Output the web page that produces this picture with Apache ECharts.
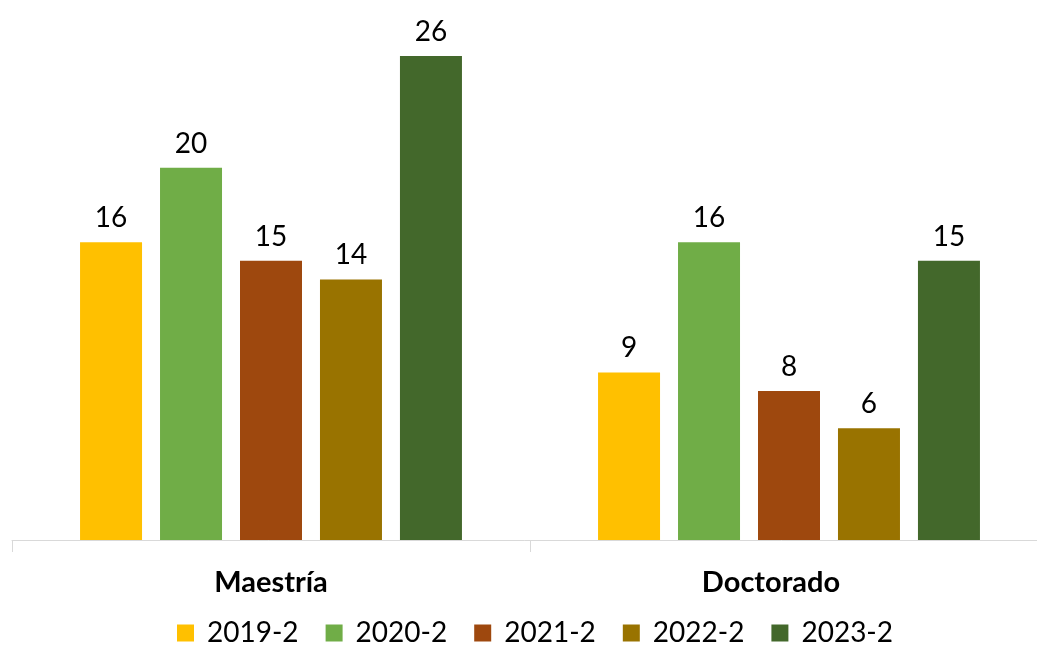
<!DOCTYPE html>
<html><head><meta charset="utf-8">
<script src="https://cdn.jsdelivr.net/npm/echarts@6/dist/echarts.min.js"></script>
<style>html,body{margin:0;padding:0;background:#fff}#c{width:1037px;height:648px}</style>
</head><body><div id="c"></div>
<script>
const categories = ['Maestría', 'Doctorado'];
const seriesNames = ['2019-2', '2020-2', '2021-2', '2022-2', '2023-2'];
const s2019 = [16, 9];
const s2020 = [20, 16];
const s2021 = [15, 8];
const s2022 = [14, 6];
const s2023 = [26, 15];
const colors = ['#FFC000', '#70AD47', '#9E480E', '#997300', '#43682B'];
const values = [s2019, s2020, s2021, s2022, s2023];
const FONT = 'Lato, "Open Sans", sans-serif';

const chart = echarts.init(document.getElementById('c'));
chart.setOption({
  animation: false,
  grid: { left: 12, top: 56, width: 1036, height: 484, containLabel: false, outerBoundsMode: 'none' },
  legend: {
    data: seriesNames, top: 619, left: 177, padding: 0,
    icon: 'rect', itemWidth: 17, itemHeight: 17, itemGap: 27,
    textStyle: { fontFamily: FONT, fontSize: 28, color: '#000', padding: [0, 0, 0, 8] }
  },
  xAxis: {
    type: 'category',
    data: categories.map((c, i) => i === 1 ? { value: c, textStyle: { padding: [0, 36, 0, 0] } } : c),
    axisLine: { lineStyle: { color: '#D9D9D9', width: 1 } },
    axisTick: { show: true, length: 12, lineStyle: { color: '#D9D9D9' } },
    axisLabel: { margin: 28, fontFamily: FONT, fontSize: 29, fontWeight: 'bold', color: '#000' }
  },
  yAxis: { type: 'value', min: 0, max: 26, show: false, splitLine: { show: false } },
  series: seriesNames.map((n, i) => ({
    name: n, type: 'bar', data: values[i],
    barWidth: 62, barGap: '29%',
    itemStyle: { color: colors[i] },
    label: { show: true, position: 'top', distance: 10, fontFamily: FONT, fontSize: 28, color: '#000' }
  }))
});
</script></body></html>
